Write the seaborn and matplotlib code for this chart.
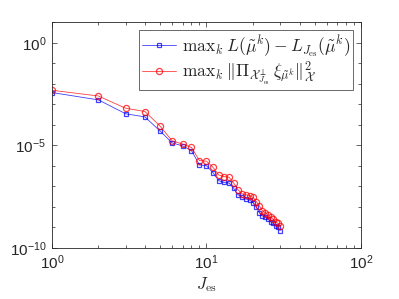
import numpy as np
import seaborn as sns
import matplotlib
matplotlib.use("Agg")
import matplotlib.pyplot as plt
from matplotlib.ticker import FixedLocator, FuncFormatter, LogLocator, NullFormatter

# J_es values and the two error measures
j_es = list(range(1, 31))
err_L = [3.8e-3, 1.66e-3, 3.5e-4, 2.45e-4, 5.1e-5, 1.32e-5, 9.5e-6, 5.6e-6,
         1.12e-6, 1.02e-6, 4.7e-7, 1.9e-7, 1.55e-7, 1.45e-7, 8.1e-8, 3.9e-8,
         2.95e-8, 2.4e-8, 2.2e-8, 1.62e-8, 9.8e-9, 5.2e-9, 3.6e-9, 3.2e-9,
         2.5e-9, 1.9e-9, 1.58e-9, 1.17e-9, 1.02e-9, 6.9e-10]
err_proj = [4.9e-3, 2.57e-3, 6.5e-4, 4.5e-4, 8.9e-5, 1.66e-5, 1.17e-5, 7.9e-6,
            1.82e-6, 1.70e-6, 8.7e-7, 3.6e-7, 3.0e-7, 2.8e-7, 1.45e-7, 6.8e-8,
            4.3e-8, 3.9e-8, 3.5e-8, 2.95e-8, 1.82e-8, 1.12e-8, 6.6e-9, 5.2e-9,
            4.1e-9, 3.2e-9, 2.5e-9, 1.9e-9, 1.58e-9, 1.17e-9]
labels = [r"$\mathrm{max}_k\; L(\tilde{\mu}^k) - L_{J_{\mathrm{es}}}(\tilde{\mu}^k)$",
          r"$\mathrm{max}_k\; \|\Pi_{\mathcal{X}^{\perp}_{J_{\mathrm{es}}}}\, \xi_{\tilde{\mu}^k}\|^2_{\mathcal{X}}$"]

sns.set_theme(style="ticks")
plt.rcParams["font.family"] = ["Liberation Sans", "DejaVu Sans"]
plt.rcParams["mathtext.fontset"] = "cm"
plt.rcParams["xtick.direction"] = "in"
plt.rcParams["ytick.direction"] = "in"

fig = plt.figure(figsize=(3.99, 2.99), dpi=100)
ax = fig.add_axes([0.130, 0.171, 0.775, 0.754])
ax.set(xscale="log", yscale="log")

sns.lineplot(x=j_es, y=err_L, ax=ax, color="#0000ff", marker="s",
             markersize=3.4, markerfacecolor="none", markeredgecolor="#0000ff",
             markeredgewidth=0.9, linewidth=0.6, alpha=0.75, label=labels[0])
sns.lineplot(x=j_es, y=err_proj, ax=ax, color="#ff0000", marker="o",
             markersize=4.4, markerfacecolor="none", markeredgecolor="#ff0000",
             markeredgewidth=0.9, linewidth=0.6, alpha=0.75, label=labels[1])

ax.set_xlim(1, 100)
ax.set_ylim(1e-10, 1e1)

fmt = FuncFormatter(lambda v, p: r"$\mathdefault{10^{%d}}$" % round(np.log10(v)))
ax.xaxis.set_major_locator(FixedLocator([1, 10, 100]))
ax.xaxis.set_minor_locator(LogLocator(base=10, subs=np.arange(2, 10)))
ax.xaxis.set_major_formatter(fmt)
ax.xaxis.set_minor_formatter(NullFormatter())
ax.yaxis.set_major_locator(FixedLocator([1e-10, 1e-5, 1e0]))
ax.yaxis.set_minor_locator(FixedLocator([10.0 ** e for e in range(-10, 2)]))
ax.yaxis.set_major_formatter(fmt)
ax.yaxis.set_minor_formatter(NullFormatter())

for s in ax.spines.values():
    s.set_color("#262626")
    s.set_linewidth(0.6)
ax.tick_params(which="both", top=True, right=True, colors="#262626",
               labelsize=11, width=0.5)
ax.tick_params(which="major", length=3.5, pad=4)
ax.tick_params(which="minor", length=2)

ax.set_xlabel(r"$J_{\mathrm{es}}$", fontsize=12, labelpad=2)

leg = ax.legend(loc="upper right", fontsize=12.5, frameon=True, fancybox=False,
                borderpad=0.15, handlelength=2.0, handletextpad=0.35,
                labelspacing=0.05, borderaxespad=0.45)
leg.get_frame().set_edgecolor("#262626")
leg.get_frame().set_linewidth(0.6)
for h in leg.legend_handles:
    h.set_alpha(0.75)

fig.savefig("out.png", dpi=100)
